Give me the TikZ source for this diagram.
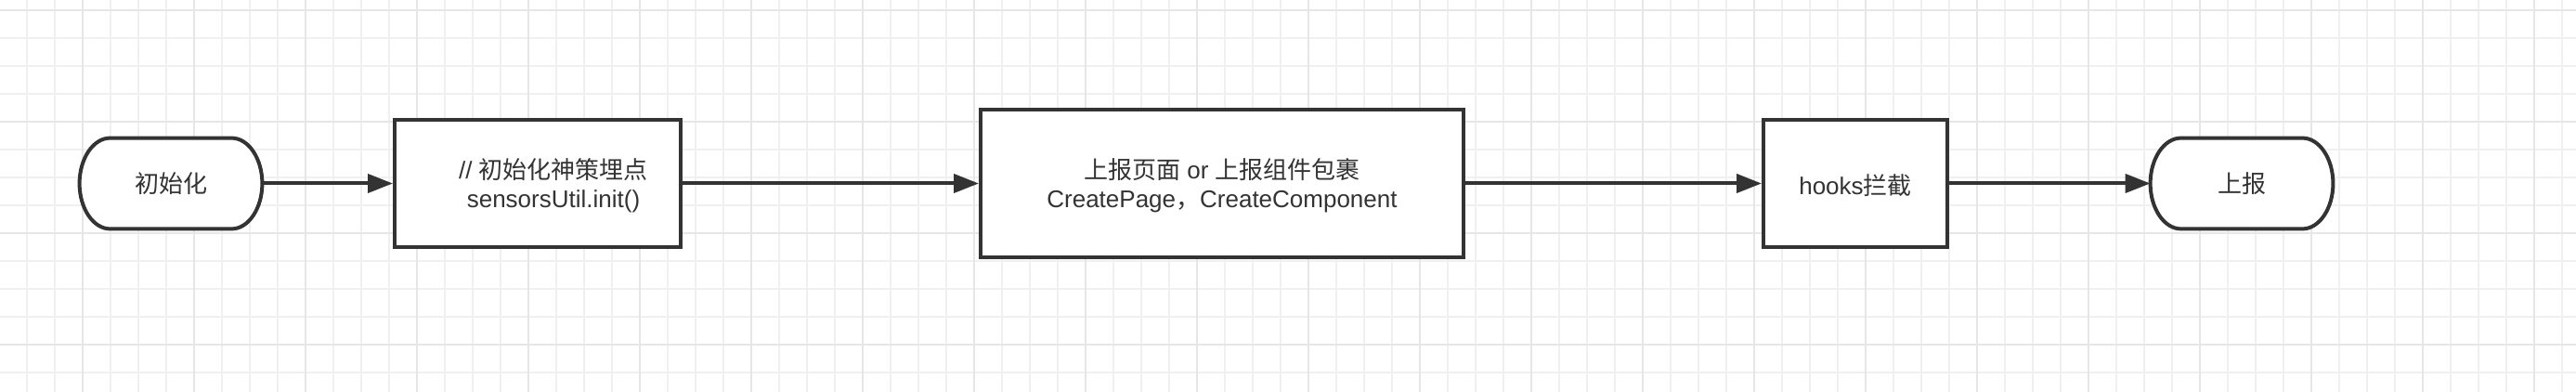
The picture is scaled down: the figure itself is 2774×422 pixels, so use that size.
\documentclass[tikz,border=0pt]{standalone}
\usepackage{fontspec}
\setmainfont{Liberation Sans}
\newfontfamily\cjk{Noto Sans CJK SC}
\usetikzlibrary{arrows.meta}
\definecolor{ink}{HTML}{333333}
\definecolor{gridminor}{HTML}{F0F0F0}
\definecolor{gridmajor}{HTML}{E6E6E6}
\begin{document}
\begin{tikzpicture}[x=0.5pt,y=-0.5pt,
  stepbox/.style={draw=ink, line width=2pt, fill=white, inner sep=0pt},
  termsize/.style={inner sep=0pt, minimum width=98pt, minimum height=48.5pt},
  outline/.style={draw=ink, line width=2pt, fill=white, line join=round},
  txt/.style={text=ink, inner sep=0pt, align=center, font=\fontsize{13pt}{15.5pt}\selectfont},
  flow/.style={draw=ink, line width=2pt, -{Triangle[length=13.5pt,width=10pt]}},
  minor/.style={draw=gridminor, line width=1pt},
  major/.style={draw=gridmajor, line width=1.2pt}]
\useasboundingbox[fill=white] (0,0) rectangle (2774,422);
% grid
\foreach \x in {-1,29,...,2789} \draw[minor] (\x,0) -- (\x,422);
\foreach \y in {11,41,...,421} \draw[minor] (0,\y) -- (2774,\y);
\foreach \x in {-31,89,...,2789} \draw[major] (\x,0) -- (\x,422);
\foreach \y in {11,131,...,421} \draw[major] (0,\y) -- (2774,\y);
% terminal 1
\node[termsize] (t1) at (184,197.5) {};
\draw[outline] ([xshift=16.5pt]t1.north west) -- ([xshift=-16.5pt]t1.north east)
  .. controls ([xshift=-7.4pt]t1.north east) and ([yshift=13.4pt]t1.east) .. (t1.east)
  .. controls ([yshift=-13.4pt]t1.east) and ([xshift=-7.4pt]t1.south east) .. ([xshift=-16.5pt]t1.south east)
  -- ([xshift=16.5pt]t1.south west)
  .. controls ([xshift=7.4pt]t1.south west) and ([yshift=-13.4pt]t1.west) .. (t1.west)
  .. controls ([yshift=13.4pt]t1.west) and ([xshift=7.4pt]t1.north west) .. ([xshift=16.5pt]t1.north west) -- cycle;
\node[txt] (t1l) at (t1) {\cjk 初始化};
% box 2
\node[stepbox, minimum width=154pt, minimum height=68.5pt] (b2) at (579,197.5) {};
\node[txt] (b2l) at (596,199.5) {// {\cjk 初始化神策埋点}\\sensorsUtil.init()};
% box 3
\node[stepbox, minimum width=260pt, minimum height=79.5pt] (b3) at (1316,197.5) {};
\node[txt] (b3l) at (1316,199.5) {{\cjk 上报页面} or {\cjk 上报组件包裹}\\CreatePage{\cjk ，}CreateComponent};
% box 4
\node[stepbox, minimum width=99pt, minimum height=68.5pt] (b4) at (1998,197.5) {};
\node[txt] (b4l) at (1998,199.5) {hooks{\cjk 拦截}};
% terminal 5
\node[termsize] (t5) at (2414,197.5) {};
\draw[outline] ([xshift=16.5pt]t5.north west) -- ([xshift=-16.5pt]t5.north east)
  .. controls ([xshift=-7.4pt]t5.north east) and ([yshift=13.4pt]t5.east) .. (t5.east)
  .. controls ([yshift=-13.4pt]t5.east) and ([xshift=-7.4pt]t5.south east) .. ([xshift=-16.5pt]t5.south east)
  -- ([xshift=16.5pt]t5.south west)
  .. controls ([xshift=7.4pt]t5.south west) and ([yshift=-13.4pt]t5.west) .. (t5.west)
  .. controls ([yshift=13.4pt]t5.west) and ([xshift=7.4pt]t5.north west) .. ([xshift=16.5pt]t5.north west) -- cycle;
\node[txt] (t5l) at (t5) {\cjk 上报};
% connectors
\draw[flow] (t1.east) -- (b2.west);
\draw[flow] (b2.east) -- (b3.west);
\draw[flow] (b3.east) -- (b4.west);
\draw[flow] (b4.east) -- (t5.west);
\end{tikzpicture}
\end{document}
